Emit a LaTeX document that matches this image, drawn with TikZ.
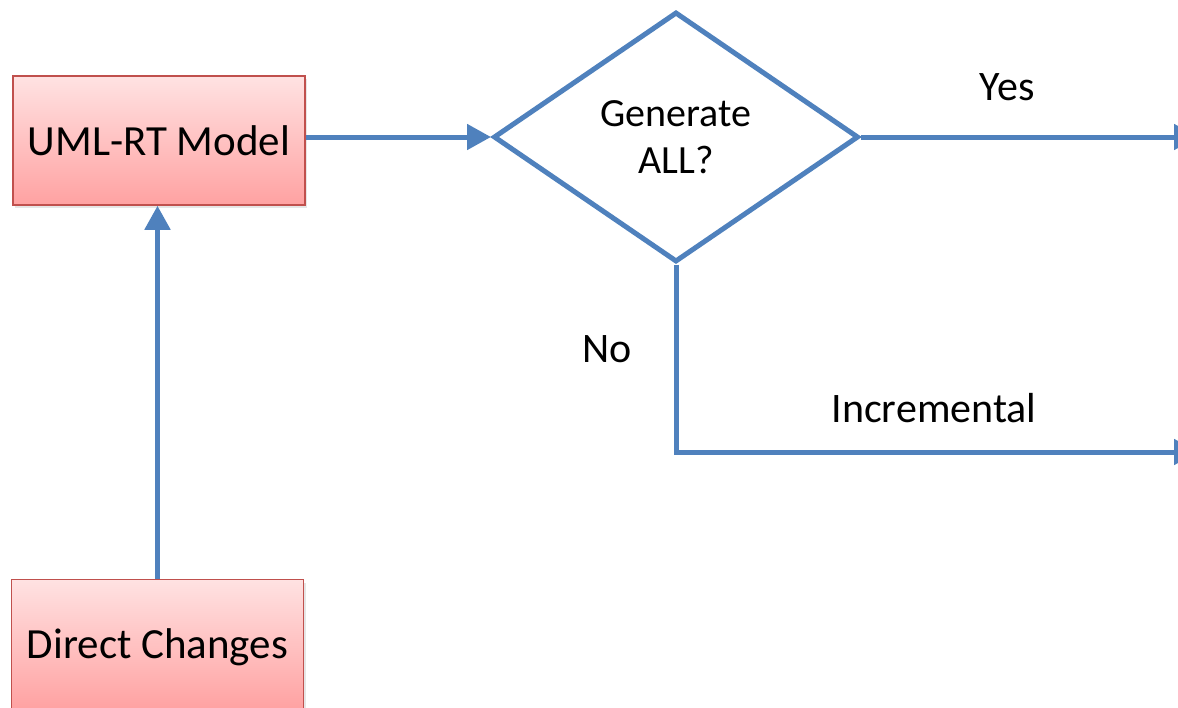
\documentclass[tikz,border=0pt]{standalone}
\usepackage{fontspec}
\setmainfont{Carlito}
\usetikzlibrary{shapes.geometric,arrows.meta,shadows}
\definecolor{flowblue}{HTML}{4F81BD}
\definecolor{boxborder}{HTML}{C0504D}
\definecolor{boxtop}{HTML}{FFE2E2}
\definecolor{boxbottom}{HTML}{FFA2A2}
\newcommand{\myfontflow}{\fontsize{40}{47}\selectfont}
\newcommand{\myfontbox}{\fontsize{43}{50}\selectfont}
\newcommand{\myfontlabel}{\fontsize{42}{50}\selectfont}
\begin{document}
\begin{tikzpicture}[x=1pt,y=-1pt,font=\myfontflow,
		box/.style={rectangle,draw=boxborder,line width=1.5pt,top color=boxtop,bottom color=boxbottom,
			minimum width=292pt,minimum height=129pt,inner sep=0pt,text depth=0pt,font=\myfontbox,
			drop shadow={opacity=0.2,shadow xshift=2pt,shadow yshift=-3pt}},
		decision/.style={diamond,draw=flowblue,line width=5pt,fill=white,
			minimum width=365pt,minimum height=250pt,inner sep=0pt,align=center},
		flow/.style={draw=flowblue,line width=5pt,-{Triangle[length=24pt,width=25pt]}},
		lbl/.style={inner sep=0pt,text depth=0pt,font=\myfontlabel}]
			%Page frame
			\useasboundingbox (0,0) rectangle (1178,707);
			\clip (0,0) rectangle (1178,707);
			%The two boxes on the left
			\node [box] (uml) at (159,140.5) {UML-RT Model};
			\node [box] (direct) at (157.5,644) {Direct Changes};
			%The decision
			\node [decision] (decide) at (676,137) {Generate\\ALL?};
			%Loose ends at the right border
			\coordinate (yesend) at (1198,137);
			\coordinate (incend) at (1198,452);
			%Connectors
			\draw [flow] (direct.north) -- (direct.north |- uml.south);
			\draw [flow] (uml.east |- decide.west) -- (decide.west);
			\draw [flow] (decide.east) -- (yesend);
			\draw [flow] (decide.south) |- (incend);
			%Labels on the branches
			\node [lbl] (yes) at (1007,87) {Yes};
			\node [lbl] (no) at (607,349) {No};
			\node [lbl] (incremental) at (934,408) {Incremental};
\end{tikzpicture}
\end{document}
